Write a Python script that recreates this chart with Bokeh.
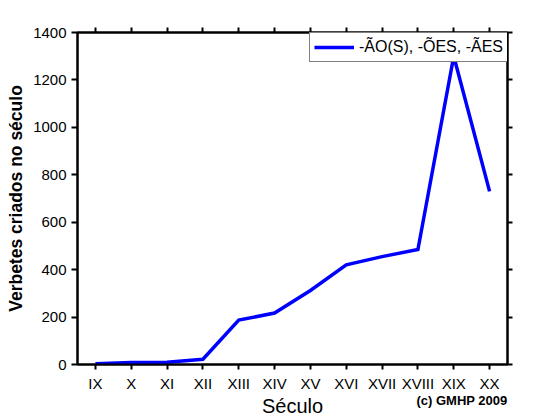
from bokeh.plotting import figure
from bokeh.models import FixedTicker, LinearAxis, Title, Range1d, Legend, LegendItem
from bokeh.embed import file_html
from bokeh.resources import INLINE

# Data
centuries = ["IX", "X", "XI", "XII", "XIII", "XIV", "XV", "XVI", "XVII", "XVIII", "XIX", "XX"]
century_num = [9, 10, 11, 12, 13, 14, 15, 16, 17, 18, 19, 20]
entries = [3, 8, 10, 22, 187, 217, 312, 420, 455, 485, 1300, 730]
y_ticks = [0, 200, 400, 600, 800, 1000, 1200, 1400]
series_label = "-ÃO(S), -ÕES, -ÃES"
x_title = "Século"
y_title = "Verbetes criados no século"
credit = "(c) GMHP 2009"

FONT = "Liberation Sans"

p = figure(width=528, height=419, output_backend="svg", toolbar_location=None,
           x_range=Range1d(8.5, 20.5), y_range=Range1d(0, 1400),
           min_border_left=77, min_border_right=21, min_border_top=32, min_border_bottom=50)
p.background_fill_color = "white"
p.border_fill_color = "white"
p.outline_line_color = "black"
p.outline_line_width = 2
p.xgrid.visible = False
p.ygrid.visible = False

r = p.line(century_num, entries, line_width=3.5, line_color="#0000FF", line_join="miter")

def style_axis(ax, labels=True):
    ax.axis_line_color = "black"
    ax.axis_line_width = 2
    ax.major_tick_line_color = "black"
    ax.major_tick_line_width = 2
    ax.major_tick_in = 0
    ax.major_tick_out = 5
    ax.minor_tick_line_color = None
    ax.major_label_text_font = FONT
    ax.major_label_text_font_size = "15px"
    ax.major_label_text_color = "black"
    if not labels:
        ax.major_label_text_alpha = 0
        ax.major_label_text_font_size = "1px"
        ax.major_label_standoff = 0

xa = p.xaxis[0]
xa.ticker = FixedTicker(ticks=century_num)
xa.major_label_overrides = {c: s for c, s in zip(century_num, centuries)}
style_axis(xa)
xa.major_label_standoff = 5
xa.axis_label = x_title
xa.axis_label_text_font = FONT
xa.axis_label_text_font_size = "20px"
xa.axis_label_text_font_style = "normal"
xa.axis_label_text_color = "black"
xa.axis_label_standoff = 0

ya = p.yaxis[0]
ya.ticker = FixedTicker(ticks=y_ticks)
style_axis(ya)
ya.major_tick_out = 6
ya.major_label_standoff = 5
ya.axis_label = y_title
ya.axis_label_text_font = FONT
ya.axis_label_text_font_size = "17.5px"
ya.axis_label_text_font_style = "bold"
ya.axis_label_text_color = "black"
ya.axis_label_standoff = 4

top = LinearAxis(ticker=FixedTicker(ticks=century_num))
style_axis(top, labels=False)
p.add_layout(top, "above")
right = LinearAxis(ticker=FixedTicker(ticks=y_ticks))
style_axis(right, labels=False)
p.add_layout(right, "right")

legend = Legend(items=[LegendItem(label=series_label, renderers=[r])],
                location=(232, 302), margin=0, padding=4, spacing=0,
                label_text_font=FONT, label_text_font_size="16px", label_text_color="black",
                glyph_width=40, glyph_height=20, label_height=20, label_standoff=5,
                border_line_color="black", border_line_width=1,
                background_fill_color="white", background_fill_alpha=1)
p.add_layout(legend, "center")

credit_title = Title(text=credit, align="right", vertical_align="top", standoff=-54, offset=0,
                     text_font=FONT, text_font_size="13px", text_font_style="bold",
                     text_color="black")
p.add_layout(credit_title, "below")

open("out.html", "w").write(file_html(p, INLINE))
